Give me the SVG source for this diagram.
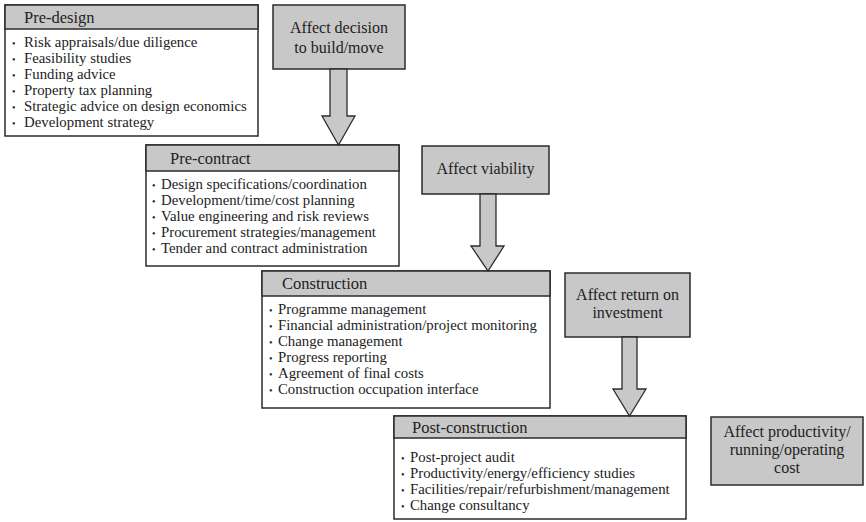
<svg xmlns="http://www.w3.org/2000/svg" width="866" height="522" viewBox="0 0 866 522">
  <style>
    .box { fill: #ffffff; stroke: #2b2b2b; stroke-width: 1.5; }
    .head { fill: #c8c8c8; stroke: #2b2b2b; stroke-width: 1.5; }
    .effect { fill: #c8c8c8; stroke: #2b2b2b; stroke-width: 1.5; }
    .arrow { fill: #c8c8c8; stroke: #2b2b2b; stroke-width: 1.3; stroke-linejoin: miter; }
    text { font-family: "Liberation Serif", "DejaVu Serif", serif; fill: #222222; }
    .title { font-size: 16.5px; }
    .item { font-size: 14.8px; }
    .bul { font-size: 10px; }
    .eff { font-size: 16px; text-anchor: middle; }
  </style>

  <!-- stage boxes -->
  <g id="pre-design">
    <rect class="box" x="5" y="5" width="253" height="131"/>
    <rect class="head" x="5" y="5" width="253" height="24"/>
    <text class="title" x="24" y="23">Pre-design</text>
    <g class="item">
      <text x="12" y="47"><tspan class="bul">•</tspan><tspan x="24">Risk appraisals/due diligence</tspan></text>
      <text x="12" y="63"><tspan class="bul">•</tspan><tspan x="24">Feasibility studies</tspan></text>
      <text x="12" y="79"><tspan class="bul">•</tspan><tspan x="24">Funding advice</tspan></text>
      <text x="12" y="95"><tspan class="bul">•</tspan><tspan x="24">Property tax planning</tspan></text>
      <text x="12" y="111"><tspan class="bul">•</tspan><tspan x="24">Strategic advice on design economics</tspan></text>
      <text x="12" y="127"><tspan class="bul">•</tspan><tspan x="24">Development strategy</tspan></text>
    </g>
  </g>

  <g id="pre-contract">
    <rect class="box" x="146" y="145" width="253" height="121"/>
    <rect class="head" x="146" y="145" width="253" height="26"/>
    <text class="title" x="170" y="164">Pre-contract</text>
    <g class="item">
      <text x="152" y="189"><tspan class="bul">•</tspan><tspan x="161">Design specifications/coordination</tspan></text>
      <text x="152" y="205"><tspan class="bul">•</tspan><tspan x="161">Development/time/cost planning</tspan></text>
      <text x="152" y="221"><tspan class="bul">•</tspan><tspan x="161">Value engineering and risk reviews</tspan></text>
      <text x="152" y="237"><tspan class="bul">•</tspan><tspan x="161">Procurement strategies/management</tspan></text>
      <text x="152" y="253"><tspan class="bul">•</tspan><tspan x="161">Tender and contract administration</tspan></text>
    </g>
  </g>

  <g id="construction">
    <rect class="box" x="262" y="271" width="288" height="137"/>
    <rect class="head" x="262" y="271" width="288" height="25"/>
    <text class="title" x="282" y="289">Construction</text>
    <g class="item">
      <text x="269" y="314"><tspan class="bul">•</tspan><tspan x="278">Programme management</tspan></text>
      <text x="269" y="330"><tspan class="bul">•</tspan><tspan x="278">Financial administration/project monitoring</tspan></text>
      <text x="269" y="346"><tspan class="bul">•</tspan><tspan x="278">Change management</tspan></text>
      <text x="269" y="362"><tspan class="bul">•</tspan><tspan x="278">Progress reporting</tspan></text>
      <text x="269" y="378"><tspan class="bul">•</tspan><tspan x="278">Agreement of final costs</tspan></text>
      <text x="269" y="394"><tspan class="bul">•</tspan><tspan x="278">Construction occupation interface</tspan></text>
    </g>
  </g>

  <g id="post-construction">
    <rect class="box" x="394" y="416" width="292" height="103"/>
    <rect class="head" x="394" y="416" width="292" height="22"/>
    <text class="title" x="412" y="433">Post-construction</text>
    <g class="item">
      <text x="401" y="462"><tspan class="bul">•</tspan><tspan x="410">Post-project audit</tspan></text>
      <text x="401" y="478"><tspan class="bul">•</tspan><tspan x="410">Productivity/energy/efficiency studies</tspan></text>
      <text x="401" y="494"><tspan class="bul">•</tspan><tspan x="410">Facilities/repair/refurbishment/management</tspan></text>
      <text x="401" y="510"><tspan class="bul">•</tspan><tspan x="410">Change consultancy</tspan></text>
    </g>
  </g>

  <!-- effect boxes -->
  <g id="affect-decision">
    <rect class="effect" x="273" y="5" width="132" height="64"/>
    <text class="eff" x="339" y="33">Affect decision</text>
    <text class="eff" x="339" y="53">to build/move</text>
  </g>

  <g id="affect-viability">
    <rect class="effect" x="422" y="146" width="127" height="48"/>
    <text class="eff" x="485.5" y="174">Affect viability</text>
  </g>

  <g id="affect-return">
    <rect class="effect" x="565" y="273" width="125" height="64"/>
    <text class="eff" x="627.5" y="300">Affect return on</text>
    <text class="eff" x="627.5" y="318">investment</text>
  </g>

  <g id="affect-productivity">
    <rect class="effect" x="711" y="417" width="152" height="68"/>
    <text class="eff" x="787" y="437">Affect productivity/</text>
    <text class="eff" x="787" y="455">running/operating</text>
    <text class="eff" x="787" y="473">cost</text>
  </g>

  <!-- block arrows between effects and stages -->
  <g id="connectors">
    <polygon class="arrow" points="330,69 347,69 347,116 355,116 338.5,145 322,116 330,116"/>
    <polygon class="arrow" points="480,194 496,194 496,246 504,246 488,271 471,246 480,246"/>
    <polygon class="arrow" points="622,337 637,337 637,389 646,389 629.5,416 613,389 622,389"/>
  </g>
</svg>
